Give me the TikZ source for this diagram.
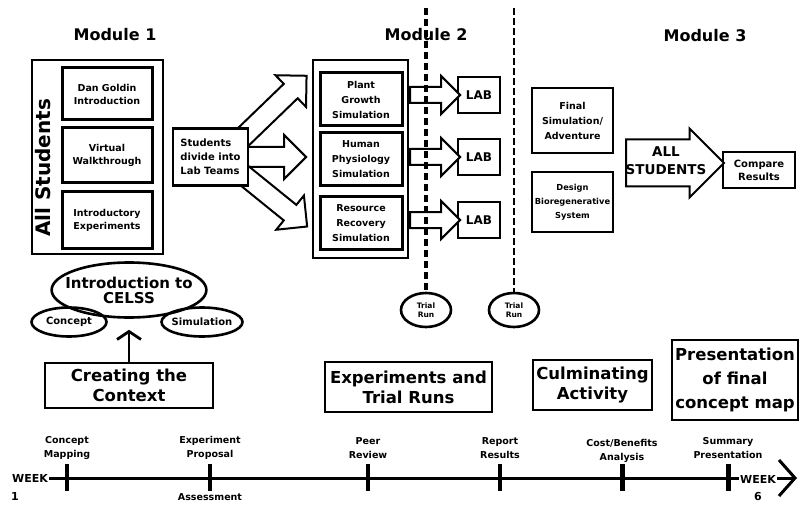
\documentclass[tikz,border=0pt]{standalone}
\usepackage{fontspec}
\setmainfont{DejaVu Sans}
\usetikzlibrary{arrows.meta,shapes.geometric,shapes.arrows,positioning,calc,backgrounds}

\begin{document}
\begin{tikzpicture}[x=1pt,y=-1pt,>={Straight Barb[length=8pt,width=24pt]}]
            \tikzstyle{modtitle}=[font=\fontsize{16}{18}\selectfont\bfseries]
            \tikzstyle{outerbox}=[draw,line width=2.3pt,inner sep=0pt]
            \tikzstyle{actbox}=[draw,line width=3pt,inner sep=0pt,align=center,minimum width=90pt,minimum height=52pt,font=\fontsize{9.5}{13}\selectfont\bfseries]
            \tikzstyle{simbox}=[draw,line width=3pt,inner sep=0pt,align=center,minimum width=82pt,minimum height=53pt,font=\fontsize{9.5}{15}\selectfont\bfseries]
            \tikzstyle{labbox}=[draw,line width=2.7pt,inner sep=0pt,minimum width=42pt,minimum height=36pt,font=\fontsize{12}{14}\selectfont\bfseries]
            \tikzstyle{m3box}=[draw,line width=2.7pt,inner sep=0pt,align=center,minimum width=81pt]
            \tikzstyle{fatarrow}=[single arrow,draw,fill=white,line width=2pt,inner xsep=0pt,inner ysep=9pt,single arrow head extend=12pt]
            \tikzstyle{labarrow}=[fatarrow,inner ysep=7pt,single arrow head extend=11pt]
            \tikzstyle{bigarrow}=[fatarrow,inner ysep=22.5pt,single arrow head extend=11pt]
            \tikzstyle{split}=[line width=3.2pt,dash pattern=on 7pt off 4pt]
            \tikzstyle{splitthin}=[line width=1.7pt,dash pattern=on 7pt off 3pt]
            \tikzstyle{trial}=[ellipse,draw,line width=2.6pt,minimum width=50pt,minimum height=34pt,inner sep=0pt,align=center,font=\fontsize{7.5}{9.5}\selectfont\bfseries]
            \tikzstyle{smallell}=[ellipse,draw,line width=2.6pt,minimum height=29pt,inner xsep=-3pt,inner ysep=1pt,font=\fontsize{10}{12}\selectfont\bfseries]
            \tikzstyle{phase}=[draw,line width=2.8pt,inner sep=0pt,align=center,font=\fontsize{16.5}{20}\selectfont\bfseries]
            \tikzstyle{tickmark}=[rectangle,fill=black,inner sep=0pt,minimum width=3.5pt,minimum height=27pt]
            \tikzstyle{tlabel}=[inner sep=0pt,align=center,font=\fontsize{9.5}{14}\selectfont\bfseries]
            \tikzstyle{weeklbl}=[inner sep=1pt,font=\fontsize{11}{12}\selectfont\bfseries]

            \useasboundingbox (0,0) rectangle (800,505);

            % module 1
            \node [modtitle] (mod1) at (115,35) {Module 1};
            \node [outerbox,minimum width=131pt,minimum height=194pt] (allbox) at (97.5,157) {};
            \node [rotate=90,font=\fontsize{20}{22}\selectfont\bfseries] (allst) at (43,168) {All Students};
            \node [actbox] (goldin) at (107,94) {Dan Goldin\\Introduction};
            \node [actbox,minimum height=55pt] (walk) at (107,155.5) {Virtual\\Walkthrough};
            \node [actbox,minimum height=56pt] (introexp) at (107,220) {Introductory\\Experiments};

            \node [draw,line width=2.2pt,fill=white,align=left,minimum width=75pt,minimum height=57pt,font=\fontsize{10}{14}\selectfont\bfseries] (divide) at (210.5,157) {Students\\divide into\\Lab Teams};
            \begin{scope}[on background layer]
            \node [fatarrow,anchor=tail,rotate=44,minimum height=90pt] (uparr) at ($(divide.east)+(-8,-18)$) {};
            \node [fatarrow,anchor=tail,minimum height=62pt] (midarr) at ($(divide.east)+(-6,0)$) {};
            \node [fatarrow,anchor=tail,rotate=-39,minimum height=84pt] (lowarr) at ($(divide.east)+(-8,16)$) {};
            \end{scope}

            % module 2
            \node [modtitle] (mod2) at (426,35) {Module 2};
            \node [outerbox,minimum width=95pt,minimum height=198pt] (simgroup) at (360.5,159) {};
            \node [simbox] (plant) at (361,99.5) {Plant\\Growth\\Simulation};
            \node [simbox] (human) at (361,159.5) {Human\\Physiology\\Simulation};
            \node [simbox] (recovery) at (361,223) {Resource\\Recovery\\Simulation};

            \node [labbox] (lab1) at (479,95) {LAB};
            \node [labbox] (lab2) at (479,157) {LAB};
            \node [labbox] (lab3) at (479,220) {LAB};
            \node [labarrow,anchor=tail,minimum height=50pt] (labarr1) at (simgroup.east |- lab1) {};
            \node [labarrow,anchor=tail,minimum height=50pt] (labarr2) at (simgroup.east |- lab2) {};
            \node [labarrow,anchor=tail,minimum height=50pt] (labarr3) at (simgroup.east |- lab3) {};

            \node [trial] (trial1) at (426,310) {Trial\\Run};
            \node [trial] (trial2) at (514,310) {Trial\\Run};
            \coordinate (cut1) at (426,8);
            \coordinate (cut2) at (514,8);
            \draw [split] (cut1) -- (trial1);
            \draw [splitthin] (cut2) -- (trial2);

            % module 3
            \node [modtitle] (mod3) at (705,36) {Module 3};
            \node [m3box,minimum height=65pt,font=\fontsize{9.5}{15}\selectfont\bfseries] (final) at (572.5,120.5) {Final\\Simulation/\\Adventure};
            \node [m3box,minimum height=60pt,font=\fontsize{8.3}{14}\selectfont\bfseries] (design) at (572.5,202) {Design\\Bioregenerative\\System};
            \node [draw,line width=2.7pt,inner sep=0pt,align=center,minimum width=72pt,minimum height=36pt,font=\fontsize{10}{13}\selectfont\bfseries] (compare) at (759,170) {Compare\\Results};
            \coordinate (alltail) at (625,163);
            \node [bigarrow,anchor=tail,minimum height=98pt] (allarr) at (alltail) {};
            \node [align=center,inner sep=0pt,font=\fontsize{13.5}{18}\selectfont\bfseries] (alltext) at (666,161) {ALL\\STUDENTS};

            % context
            \node [ellipse,draw,line width=2.6pt,minimum width=152pt,minimum height=55pt,inner xsep=-9pt,inner ysep=0pt,align=center,font=\fontsize{15}{15}\selectfont\bfseries] (celss) at (129,290) {Introduction to\\CELSS};
            \node [smallell,minimum width=75pt] (concept) at (69,322) {Concept};
            \node [smallell,minimum width=81pt] (simul) at (202,322) {Simulation};

            \node [phase,minimum width=168pt,minimum height=45pt] (context) at (129,385.5) {Creating the\\Context};
            \draw [->,line width=2.8pt,shorten >=11pt] (context) -- (celss);
            \node [phase,minimum width=167pt,minimum height=50pt] (trialruns) at (408.5,387) {Experiments and\\Trial Runs};
            \node [phase,minimum width=119pt,minimum height=50pt] (culm) at (592.5,385) {Culminating\\Activity};
            \node [phase,minimum width=126pt,minimum height=80pt,font=\fontsize{16.5}{24}\selectfont\bfseries] (present) at (735,380) {Presentation\\of final\\concept map};

            % timeline
            \node [weeklbl] (wk1) at (30,478) {WEEK};
            \node [weeklbl] (wk1num) at (15,496) {1};
            \coordinate (tlend) at (797,478);
            \draw [line width=3pt,-{Straight Barb[length=16pt,width=36pt]}] (wk1) -- (tlend);
            \node [weeklbl,fill=white] (wk6) at (758,479) {WEEK};
            \node [weeklbl] (wk6num) at (758,496) {6};

            \node [tickmark] (t1) at (67,477) {};
            \node [tickmark] (t2) at (210,477) {};
            \node [tickmark] (t3) at (368,477) {};
            \node [tickmark] (t4) at (500,477) {};
            \node [tickmark,minimum width=5pt] (t5) at (622,477) {};
            \node [tickmark,minimum width=5pt] (t6) at (728,477) {};
            \node [tlabel,above=4pt of t1] (mapping) {Concept\\Mapping};
            \node [tlabel,above=4pt of t2] (proposal) {Experiment\\Proposal};
            \node [tlabel,below=3pt of t2] (assess) {Assessment};
            \node [tlabel,above=4pt of t3] (review) {Peer\\Review};
            \node [tlabel,above=4pt of t4] (report) {Report\\Results};
            \node [tlabel,above=1pt of t5] (costben) {Cost/Benefits\\Analysis};
            \node [tlabel,above=4pt of t6] (summary) {Summary\\Presentation};
\end{tikzpicture}
\end{document}
